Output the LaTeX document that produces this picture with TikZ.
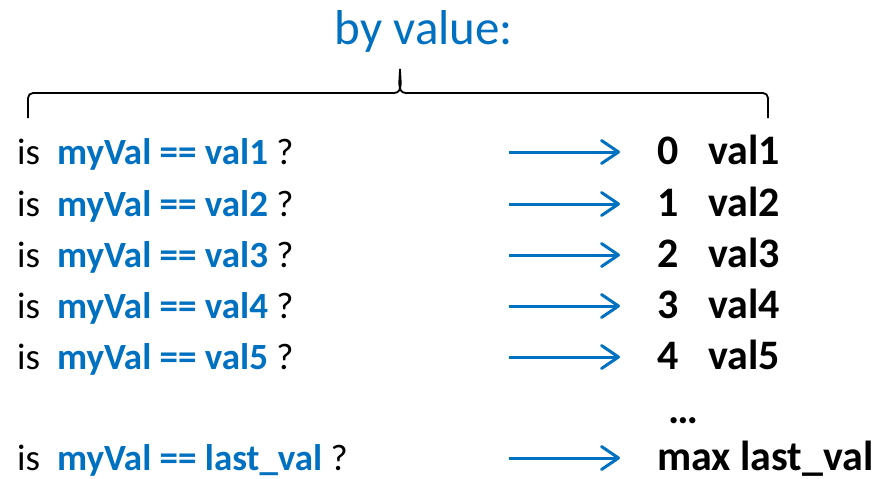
\documentclass[tikz,border=0pt]{standalone}
\usepackage{fontspec}
\setmainfont{Carlito}
\usetikzlibrary{arrows.meta}
\definecolor{ob}{HTML}{0070C0}
\tikzset{
  rowtxt/.style={anchor=base west, inner sep=0pt, font=\fontsize{37}{44}\selectfont},
  restxt/.style={anchor=base west, inner sep=0pt, font=\fontsize{42}{50}\selectfont\bfseries},
  mapar/.style={draw=ob, line width=3pt, -{Straight Barb[length=17pt,width=23pt,line width=3pt,line cap=round,round]}},
  bracepath/.style={draw=black, line width=1.8pt}
}
\begin{document}
\begin{tikzpicture}[x=1pt,y=-1pt]
\useasboundingbox (0,0) rectangle (886,479);
\node[anchor=base, inner sep=0pt, text=ob, font=\fontsize{49}{56}\selectfont] (title) at (424,44) {by value:};
\draw[bracepath] (28,118) -- (28,98) to[out=90,in=180] (33,93) -- (394,93) to[out=0,in=-90] (400,69) to[out=-90,in=180] (406,93) -- (763,93) to[out=0,in=90] (768,98) -- (768,118);
\foreach \i/\y/\n in {1/164/0,2/216/1,3/267/2,4/318/3,5/369/4}{
  \node[rowtxt] (is\i) at (17,\y) {is};
  \node[rowtxt] (q\i) at (57,\y) {{\color{ob}\bfseries myVal == val\i} ?};
  \coordinate (s\i) at (509,\y-12);
  \coordinate (e\i) at (620,\y-12);
  \draw[mapar] (s\i) -- (e\i);
  \node[restxt] (n\i) at (657,\y) {\n};
  \node[restxt] (v\i) at (708,\y) {val\i};
}
\node[restxt] (dots) at (668,423) {…};
\node[rowtxt] (is6) at (17,470) {is};
\node[rowtxt] (q6) at (57,470) {{\color{ob}\bfseries myVal == last\_val} ?};
\coordinate (s6) at (509,458);
\coordinate (e6) at (620,458);
\draw[mapar] (s6) -- (e6);
\node[restxt] (v6) at (657,470) {max last\_val};
\end{tikzpicture}
\end{document}
